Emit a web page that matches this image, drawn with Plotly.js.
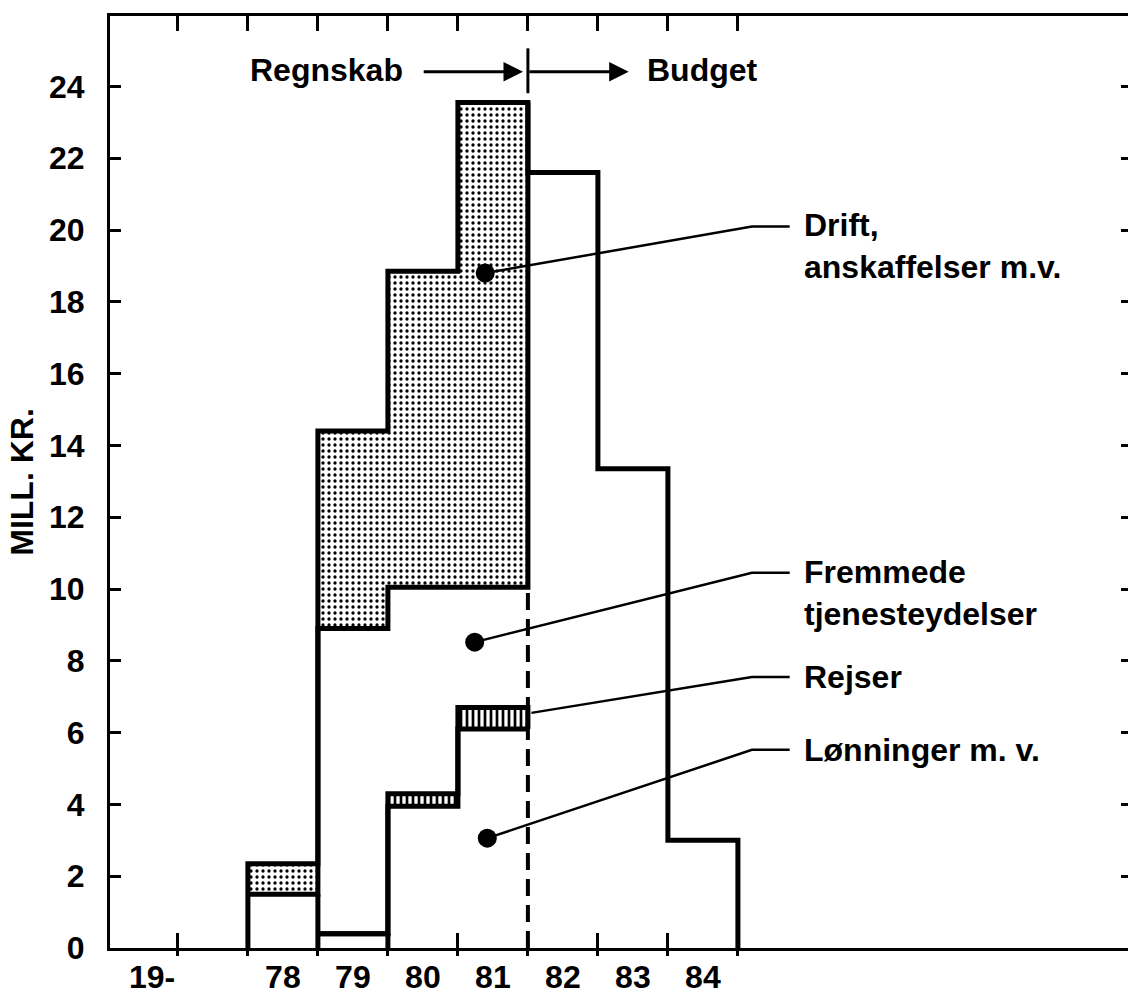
<!DOCTYPE html>
<html>
<head>
<meta charset="utf-8">
<script src="https://cdn.plot.ly/plotly-3.0.1.min.js"></script>
<style>
html,body{margin:0;padding:0;background:#fff;overflow:hidden;}
#chart{width:1140px;height:998px;}
</style>
</head>
<body>
<div id="chart"></div>
<script>
// ---- data (Mill. kr.) ----
const years      = [78, 79, 80, 81];          // Regnskab
const lonninger  = [0, 0.4, 3.95, 6.1];
const rejser     = [0, 0, 0.35, 0.6];
const fremmede   = [1.5, 8.5, 5.75, 3.35];
const drift      = [0.85, 5.5, 8.8, 13.5];
const budgetYears = [82, 83, 84];             // Budget
const budgetTotal = [21.6, 13.35, 3.0];
const xTickLabels = ['19-', '78', '79', '80', '81', '82', '83', '84'];
const xTickPos    = [76.13, 78, 79, 80, 81, 82, 83, 84];
const yTicks      = [0, 2, 4, 6, 8, 10, 12, 14, 16, 18, 20, 22, 24];
const boundaryTicks = [76.5, 77.5, 78.5, 79.5, 80.5, 81.5, 82.5, 83.5, 84.5];

// ---- cumulative levels ----
const cum = (arrs) => years.map((_, i) => arrs.reduce((s, a) => s + a[i], 0));
const lonCum  = cum([lonninger]);
const rejCum  = cum([lonninger, rejser]);
const fremCum = cum([lonninger, rejser, fremmede]);
const totCum  = cum([lonninger, rejser, fremmede, drift]);
const last = years.length - 1;
const splitX = years[last] + 0.5;

const stepX = years.map(y => y - 0.5).concat([splitX]);
const stepY = v => v.concat([v[last]]);

const FONT = 'Liberation Sans, Arial, Helvetica, sans-serif';
const black = '#000';
const traces = [];

// fills
traces.push({x: stepX, y: stepY(lonCum), mode: 'lines', line: {width: 0, shape: 'hv'}, hoverinfo: 'skip', showlegend: false});
traces.push({x: stepX, y: stepY(rejCum), mode: 'lines', line: {width: 0, shape: 'hv'}, fill: 'tonexty',
  fillcolor: 'white', fillpattern: {shape: '|', fgcolor: black, bgcolor: 'white', size: 6, solidity: 0.45},
  hoverinfo: 'skip', showlegend: false});
traces.push({x: stepX, y: stepY(fremCum), mode: 'lines', line: {width: 0, shape: 'hv'}, hoverinfo: 'skip', showlegend: false});
traces.push({x: stepX, y: stepY(totCum), mode: 'lines', line: {width: 0, shape: 'hv'}, fill: 'tonexty',
  fillcolor: 'white', fillpattern: {shape: '.', fgcolor: black, bgcolor: 'white', size: 6, solidity: 0.24},
  hoverinfo: 'skip', showlegend: false});

const L = {color: black, width: 5, shape: 'hv'};
// Lønninger line (starts where it leaves the axis)
traces.push({name: 'Lønninger m. v.', x: stepX.slice(1), y: stepY(lonCum).slice(1), mode: 'lines', line: L, showlegend: false});
// Rejser line (with right edge of box)
traces.push({name: 'Rejser', x: stepX.slice(1).concat([splitX]), y: stepY(rejCum).slice(1).concat([lonCum[last]]), mode: 'lines', line: L, showlegend: false});
// Fremmede line (with right edge of drift box)
traces.push({name: 'Fremmede tjenesteydelser', x: stepX.concat([splitX]), y: stepY(fremCum).concat([totCum[last]]), mode: 'lines', line: L, showlegend: false});
// outline of totals incl. budget
const allYears = years.concat(budgetYears);
const allTot = totCum.concat(budgetTotal);
const endX = allYears[allYears.length - 1] + 0.5;
traces.push({name: 'I alt',
  x: [years[0] - 0.5].concat(allYears.map(y => y - 0.5)).concat([endX, endX]),
  y: [0].concat(allTot).concat([allTot[allTot.length - 1], 0]),
  mode: 'lines', line: L, showlegend: false});
// closing edges of the first two Regnskab years
traces.push({x: [years[0] + 0.5, years[0] + 0.5], y: [0, fremCum[0]], mode: 'lines', line: {color: black, width: 5}, showlegend: false, hoverinfo: 'skip'});
traces.push({x: [years[1] + 0.5, years[1] + 0.5], y: [0, lonCum[1]], mode: 'lines', line: {color: black, width: 5}, showlegend: false, hoverinfo: 'skip'});
// dashed divider Regnskab / Budget
traces.push({x: [splitX, splitX], y: [0, fremCum[last]], mode: 'lines', line: {color: black, width: 4, dash: '17px,9px'}, showlegend: false, hoverinfo: 'skip'});

// leaders
const labX = 85.41, kinkX = 84.7, endLX = 85.24;
const leaders = [
  {dot: [80.89, 18.8], y: 20.1, dotShown: true, text: 'Drift,<br>anskaffelser m.v.'},
  {dot: [80.74, 8.52], y: 10.45, dotShown: true, text: 'Fremmede<br>tjenesteydelser'},
  {dot: [81.55, 6.55], y: 7.55, dotShown: false, text: 'Rejser'},
  {dot: [80.92, 3.06], y: 5.52, dotShown: true, text: 'Lønninger m. v.'}
];
leaders.forEach(l => {
  traces.push({x: [l.dot[0], kinkX, endLX], y: [l.dot[1], l.y, l.y], mode: 'lines', line: {color: black, width: 2.5}, showlegend: false, hoverinfo: 'skip'});
});
const dots = leaders.filter(l => l.dotShown);
traces.push({x: dots.map(l => l.dot[0]), y: dots.map(l => l.dot[1]), mode: 'markers', marker: {color: black, size: 19}, showlegend: false, hoverinfo: 'skip'});
// dummy traces for overlay axes
traces.push({x: [], y: [], xaxis: 'x2', showlegend: false});
traces.push({x: [], y: [], xaxis: 'x3', showlegend: false});

const annotations = leaders.map(l => ({
  x: labX, y: l.y, xref: 'x', yref: 'y', xanchor: 'left', yanchor: l.text.includes('<br>') ? 'top' : 'middle',
  yshift: l.text.includes('<br>') ? 21 : 0,
  text: l.text, showarrow: false, align: 'left',
  font: {family: FONT, size: 32, color: black, weight: 'bold'}
}));
const headY = 24.46;
annotations.push({x: 79.744, y: headY, xref: 'x', yref: 'y', xanchor: 'right', yanchor: 'middle', text: 'Regnskab', showarrow: false,
  font: {family: FONT, size: 32, color: black, weight: 'bold'}});
annotations.push({x: 83.17, y: headY, xref: 'x', yref: 'y', xanchor: 'left', yanchor: 'middle', text: 'Budget', showarrow: false,
  font: {family: FONT, size: 32, color: black, weight: 'bold'}});
annotations.push({x: 81.43, y: headY - 0.05, ax: 79.99, ay: headY - 0.05, xref: 'x', yref: 'y', axref: 'x', ayref: 'y', text: '',
  showarrow: true, arrowhead: 2, arrowsize: 1.3, arrowwidth: 3, arrowcolor: black, standoff: 0, startstandoff: 0});
annotations.push({x: 82.94, y: headY - 0.05, ax: splitX, ay: headY - 0.05, xref: 'x', yref: 'y', axref: 'x', ayref: 'y', text: '',
  showarrow: true, arrowhead: 2, arrowsize: 1.3, arrowwidth: 3, arrowcolor: black, standoff: 0, startstandoff: 0});

const shapes = [
  {type: 'line', xref: 'x', yref: 'y', x0: splitX, x1: splitX, y0: headY - 0.65, y1: headY + 0.6, line: {color: black, width: 3}}
];

const xr = [75.53, 75.53 + 1022 / 70];
const layout = {
  width: 1140, height: 998,
  margin: {l: 110, r: 8, t: 16, b: 50},
  paper_bgcolor: 'white', plot_bgcolor: 'white',
  showlegend: false,
  font: {family: FONT, color: black},
  xaxis: {range: xr, tickmode: 'array', tickvals: boundaryTicks, ticktext: boundaryTicks.map(() => ''),
    ticks: 'inside', ticklen: 15, tickwidth: 3, tickcolor: black, showticklabels: false,
    showline: true, linewidth: 3, linecolor: black, mirror: 'ticks', showgrid: false, zeroline: false, fixedrange: true},
  xaxis2: {overlaying: 'x', anchor: 'y', side: 'bottom', range: xr, tickmode: 'array', tickvals: xTickPos, ticktext: xTickLabels,
    ticks: '', showline: false, showgrid: false, zeroline: false, ticklabelstandoff: 7,
    tickfont: {family: FONT, size: 32, color: black, weight: 'bold'}},
  xaxis3: {overlaying: 'x', anchor: 'y', side: 'bottom', range: xr, tickmode: 'array', tickvals: boundaryTicks,
    ticks: 'outside', ticklen: 7, tickwidth: 3, tickcolor: black, showticklabels: false, showline: false, showgrid: false, zeroline: false},
  yaxis: {range: [0, 932 / 35.9], tickmode: 'array', tickvals: yTicks, ticks: 'inside', ticklen: 11, tickwidth: 3, tickcolor: black,
    showline: true, linewidth: 3, linecolor: black, mirror: 'ticks', showgrid: false, zeroline: false, ticklabelstandoff: 16,
    tickfont: {family: FONT, size: 32, color: black, weight: 'bold'},
    title: {text: 'MILL. KR.', font: {family: FONT, size: 32, color: black, weight: 'bold'}, standoff: 6}},
  annotations: annotations,
  shapes: shapes
};
Plotly.newPlot('chart', traces, layout, {staticPlot: true, displayModeBar: false});
</script>
</body>
</html>
